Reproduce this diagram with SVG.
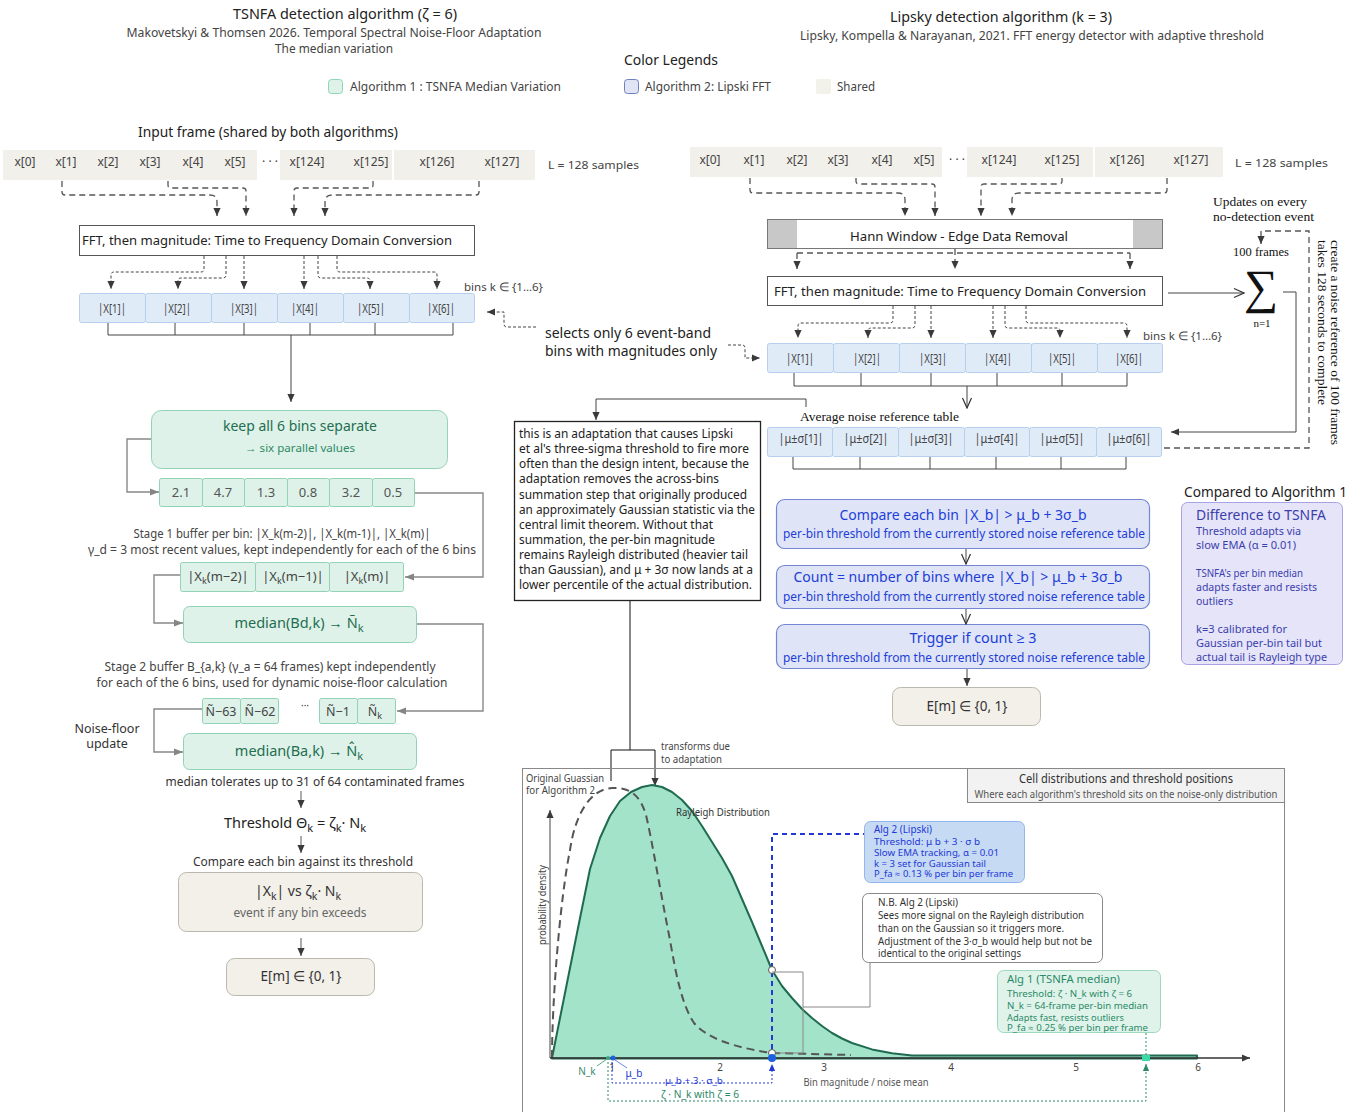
<svg xmlns="http://www.w3.org/2000/svg" width="1364" height="1112" viewBox="0 0 1364 1112">
<defs>
<marker id="ah" markerUnits="userSpaceOnUse" markerWidth="8" markerHeight="9" viewBox="0 0 10 10" refX="10" refY="5" orient="auto"><path d="M0,0.5 L10,5 L0,9.5 z" fill="#3a3a3a"/></marker>
<marker id="ahg" markerUnits="userSpaceOnUse" markerWidth="10" markerHeight="9" viewBox="0 0 10 10" refX="10" refY="5" orient="auto"><path d="M0,1 L10,5 L0,9 z" fill="#858585"/></marker>
<marker id="av" markerUnits="userSpaceOnUse" markerWidth="12" markerHeight="12" viewBox="0 0 12 12" refX="11" refY="6" orient="auto"><path d="M1,1.5 L11,6 L1,10.5" fill="none" stroke="#333" stroke-width="1.2"/></marker>
<marker id="ahb" markerUnits="userSpaceOnUse" markerWidth="7" markerHeight="8" viewBox="0 0 10 10" refX="10" refY="5" orient="auto"><path d="M0,0.5 L10,5 L0,9.5 z" fill="#2438d8"/></marker>
<marker id="ahn" markerUnits="userSpaceOnUse" markerWidth="7" markerHeight="8" viewBox="0 0 10 10" refX="10" refY="5" orient="auto"><path d="M0,0.5 L10,5 L0,9.5 z" fill="#2a8a67"/></marker>
</defs>
<style>
text{font-family:"Noto Sans","Open Sans","Liberation Sans",sans-serif;fill:#222}
.m{text-anchor:middle}
.sf{font-family:"Liberation Serif","DejaVu Serif",serif;fill:#111}
.g4{fill:#444}
.cell{fill:#f1f0ea}
.bin{fill:#e0ebf8;stroke:#b7cfee;stroke-width:1}
.mint{fill:#def2e9;stroke:#92d3b5;stroke-width:1}
.gt{fill:#1f6e50}
.lav{fill:#dfe4f6;stroke:#7387d2;stroke-width:1.2}
.bt{fill:#1d3ed8}
.shr{fill:#f2f0e9;stroke:#bbb8ad;stroke-width:1}
.d1{fill:none;stroke:#555;stroke-width:1.3;stroke-dasharray:6 4}
.d2{fill:none;stroke:#444;stroke-width:1;stroke-dasharray:3 2}
.ln{fill:none;stroke:#444;stroke-width:1}
.gl{fill:none;stroke:#888;stroke-width:1.4}
.cp{fill:#3b3fae}
</style>
<rect width="1364" height="1112" fill="#fff"/>

<g id="headers">
<text x="345" y="19" class="m" font-size="15" textLength="224" lengthAdjust="spacingAndGlyphs">TSNFA detection algorithm (ζ = 6)</text>
<text x="334" y="37" class="m g4" font-size="12" textLength="415" lengthAdjust="spacingAndGlyphs">Makovetskyi &amp; Thomsen 2026. Temporal Spectral Noise-Floor Adaptation</text>
<text x="334" y="53" class="m g4" font-size="12" textLength="118" lengthAdjust="spacingAndGlyphs">The median variation</text>
<text x="1001" y="22" class="m" font-size="14.5" textLength="222" lengthAdjust="spacingAndGlyphs">Lipsky detection algorithm (k = 3)</text>
<text x="1032" y="40" class="m g4" font-size="12" textLength="464" lengthAdjust="spacingAndGlyphs">Lipsky, Kompella &amp; Narayanan, 2021. FFT energy detector with adaptive threshold</text>
<text x="138" y="137" font-size="14" textLength="260" lengthAdjust="spacingAndGlyphs">Input frame (shared by both algorithms)</text>
</g>

<g id="legend">
<text x="624" y="65" font-size="14" textLength="94" lengthAdjust="spacingAndGlyphs">Color Legends</text>
<rect x="328.5" y="79.5" width="14" height="14" rx="3" fill="#def2e9" stroke="#8fd4b4"/>
<text x="350" y="91" class="g4" font-size="12" textLength="211" lengthAdjust="spacingAndGlyphs">Algorithm 1 : TSNFA Median Variation</text>
<rect x="624.5" y="79.5" width="14" height="14" rx="3" fill="#e0e5f5" stroke="#6f7fc0"/>
<text x="645" y="91" class="g4" font-size="12" textLength="126" lengthAdjust="spacingAndGlyphs">Algorithm 2: Lipski FFT</text>
<rect x="816" y="79" width="15" height="15" rx="2" fill="#f2f1ea"/>
<text x="837" y="91" class="g4" font-size="12" textLength="38" lengthAdjust="spacingAndGlyphs">Shared</text>
</g>

<g id="input-left">
<rect x="3" y="150" width="254" height="30" class="cell"/>
<rect x="280" y="150" width="112" height="30" class="cell"/>
<rect x="394" y="150" width="141" height="30" class="cell"/>
<g font-size="12" class="m">
<text x="25" y="166" class="g4">x[0]</text><text x="66" y="166" class="g4">x[1]</text><text x="108" y="166" class="g4">x[2]</text><text x="150" y="166" class="g4">x[3]</text><text x="193" y="166" class="g4">x[4]</text><text x="235" y="166" class="g4">x[5]</text>
<text x="270" y="166" class="g4">· · ·</text>
<text x="307" y="166" class="g4">x[124]</text><text x="371" y="166" class="g4">x[125]</text><text x="437" y="166" class="g4">x[126]</text><text x="502" y="166" class="g4">x[127]</text>
</g>
<text x="548" y="169" class="g4" font-size="11.5" textLength="91" lengthAdjust="spacingAndGlyphs">L = 128 samples</text>
</g>

<g id="input-right">
<rect x="690" y="147" width="252" height="30" class="cell"/>
<rect x="967" y="147" width="126" height="30" class="cell"/>
<rect x="1095" y="147" width="128" height="30" class="cell"/>
<g font-size="12" class="m">
<text x="710" y="164" class="g4">x[0]</text><text x="754" y="164" class="g4">x[1]</text><text x="797" y="164" class="g4">x[2]</text><text x="838" y="164" class="g4">x[3]</text><text x="882" y="164" class="g4">x[4]</text><text x="924" y="164" class="g4">x[5]</text>
<text x="957" y="164" class="g4">· · ·</text>
<text x="999" y="164" class="g4">x[124]</text><text x="1062" y="164" class="g4">x[125]</text><text x="1127" y="164" class="g4">x[126]</text><text x="1191" y="164" class="g4">x[127]</text>
</g>
<text x="1235" y="167" class="g4" font-size="11.5" textLength="93" lengthAdjust="spacingAndGlyphs">L = 128 samples</text>
</g>

<g id="fft-left">
<rect x="79.5" y="225.5" width="395" height="30" fill="#fff" stroke="#555"/>
<text x="267" y="245" class="m" font-size="13" textLength="370" lengthAdjust="spacingAndGlyphs">FFT, then magnitude:  Time to Frequency Domain Conversion</text>
</g>

<g id="bins-left">
<rect x="79.5" y="293.5" width="66" height="29" rx="2" class="bin"/>
<rect x="145.5" y="293.5" width="66" height="29" rx="2" class="bin"/>
<rect x="211.5" y="293.5" width="66" height="29" rx="2" class="bin"/>
<rect x="277.5" y="293.5" width="66" height="29" rx="2" class="bin"/>
<rect x="343.5" y="293.5" width="66" height="29" rx="2" class="bin"/>
<rect x="409.5" y="293.5" width="65" height="29" rx="2" class="bin"/>
<g font-size="13" class="m">
<text x="112" y="313" class="g4" textLength="28" lengthAdjust="spacingAndGlyphs">|X[1]|</text><text x="177" y="313" class="g4" textLength="28" lengthAdjust="spacingAndGlyphs">|X[2]|</text><text x="244" y="313" class="g4" textLength="28" lengthAdjust="spacingAndGlyphs">|X[3]|</text><text x="305" y="313" class="g4" textLength="28" lengthAdjust="spacingAndGlyphs">|X[4]|</text><text x="371" y="313" class="g4" textLength="28" lengthAdjust="spacingAndGlyphs">|X[5]|</text><text x="441" y="313" class="g4" textLength="28" lengthAdjust="spacingAndGlyphs">|X[6]|</text>
</g>
<text x="464" y="291" class="g4" font-size="11.5" textLength="79" lengthAdjust="spacingAndGlyphs">bins k ∈ {1…6}</text>
</g>

<g id="selects-note">
<text x="545" y="338" font-size="14.5" textLength="166" lengthAdjust="spacingAndGlyphs">selects only 6 event-band</text>
<text x="545" y="356" font-size="14.5" textLength="172" lengthAdjust="spacingAndGlyphs">bins with magnitudes only</text>
</g>

<g id="hann">
<rect x="767.5" y="219.5" width="395" height="29" fill="#fff" stroke="#777"/>
<rect x="768" y="220" width="29" height="28" fill="#c8c8c8"/>
<rect x="1133" y="220" width="29" height="28" fill="#c8c8c8"/>
<text x="959" y="241" class="m" font-size="13" textLength="218" lengthAdjust="spacingAndGlyphs">Hann Window - Edge Data Removal</text>
</g>

<g id="fft-right">
<rect x="767.5" y="276.5" width="395" height="29" fill="#fff" stroke="#555"/>
<text x="960" y="296" class="m" font-size="13" textLength="372" lengthAdjust="spacingAndGlyphs">FFT, then magnitude:  Time to Frequency Domain Conversion</text>
</g>

<g id="bins-right">
<rect x="767.5" y="343.5" width="66" height="29" rx="2" class="bin"/>
<rect x="833.5" y="343.5" width="66" height="29" rx="2" class="bin"/>
<rect x="899.5" y="343.5" width="66" height="29" rx="2" class="bin"/>
<rect x="965.5" y="343.5" width="66" height="29" rx="2" class="bin"/>
<rect x="1031.5" y="343.5" width="66" height="29" rx="2" class="bin"/>
<rect x="1097.5" y="343.5" width="65" height="29" rx="2" class="bin"/>
<g font-size="13" class="m">
<text x="800" y="363" class="g4" textLength="28" lengthAdjust="spacingAndGlyphs">|X[1]|</text><text x="867" y="363" class="g4" textLength="28" lengthAdjust="spacingAndGlyphs">|X[2]|</text><text x="933" y="363" class="g4" textLength="28" lengthAdjust="spacingAndGlyphs">|X[3]|</text><text x="998" y="363" class="g4" textLength="28" lengthAdjust="spacingAndGlyphs">|X[4]|</text><text x="1062" y="363" class="g4" textLength="28" lengthAdjust="spacingAndGlyphs">|X[5]|</text><text x="1129" y="363" class="g4" textLength="28" lengthAdjust="spacingAndGlyphs">|X[6]|</text>
</g>
<text x="1143" y="340" class="g4" font-size="11.5" textLength="79" lengthAdjust="spacingAndGlyphs">bins k ∈ {1…6}</text>
</g>

<g id="sigma">
<text x="1213" y="206" class="sf" font-size="12.5" textLength="94" lengthAdjust="spacingAndGlyphs">Updates on every</text>
<text x="1213" y="221" class="sf" font-size="12.5" textLength="101" lengthAdjust="spacingAndGlyphs">no-detection event</text>
<text x="1261" y="256" class="sf m" font-size="12.5">100 frames</text>
<text x="1261" y="303" class="sf m" font-size="48">∑</text>
<text x="1262" y="327" class="sf m" font-size="11">n=1</text>
<g transform="translate(1331,240) rotate(90)">
<text x="0" y="0" class="sf" font-size="12.5" textLength="205" lengthAdjust="spacingAndGlyphs">create a noise reference of 100 frames</text>
<text x="0" y="13" class="sf" font-size="12.5" textLength="165" lengthAdjust="spacingAndGlyphs">takes 128 seconds to complete</text>
</g>
</g>

<g id="noise-table">
<text x="800" y="421" class="sf" font-size="12" textLength="159" lengthAdjust="spacingAndGlyphs">Average noise reference table</text>
<rect x="767.5" y="427.5" width="65" height="29" rx="2" class="bin"/>
<rect x="832.5" y="427.5" width="66" height="29" rx="2" class="bin"/>
<rect x="898.5" y="427.5" width="66" height="29" rx="2" class="bin"/>
<rect x="964.5" y="427.5" width="65" height="29" rx="2" class="bin"/>
<rect x="1029.5" y="427.5" width="67" height="29" rx="2" class="bin"/>
<rect x="1096.5" y="427.5" width="65" height="29" rx="2" class="bin"/>
<g font-size="13" class="m">
<text x="801" y="443" class="g4" textLength="45" lengthAdjust="spacingAndGlyphs">|μ±σ[1]|</text>
<text x="866" y="443" class="g4" textLength="45" lengthAdjust="spacingAndGlyphs">|μ±σ[2]|</text>
<text x="931" y="443" class="g4" textLength="45" lengthAdjust="spacingAndGlyphs">|μ±σ[3]|</text>
<text x="997" y="443" class="g4" textLength="45" lengthAdjust="spacingAndGlyphs">|μ±σ[4]|</text>
<text x="1062" y="443" class="g4" textLength="45" lengthAdjust="spacingAndGlyphs">|μ±σ[5]|</text>
<text x="1129" y="443" class="g4" textLength="45" lengthAdjust="spacingAndGlyphs">|μ±σ[6]|</text>
</g>
</g>

<g id="adaptation-note">
<rect x="514.5" y="421.5" width="246" height="179" fill="#fff" stroke="#222" stroke-width="1.3"/>
<g font-size="12.5">
<text x="519" y="438" textLength="214" lengthAdjust="spacingAndGlyphs">this is an adaptation that causes Lipski</text>
<text x="519" y="453" textLength="230" lengthAdjust="spacingAndGlyphs">et al's three-sigma threshold to fire more</text>
<text x="519" y="468" textLength="230" lengthAdjust="spacingAndGlyphs">often than the design intent, because the</text>
<text x="519" y="483" textLength="200" lengthAdjust="spacingAndGlyphs">adaptation removes the across-bins</text>
<text x="519" y="499" textLength="228" lengthAdjust="spacingAndGlyphs">summation step that originally produced</text>
<text x="519" y="514" textLength="236" lengthAdjust="spacingAndGlyphs">an approximately Gaussian statistic via the</text>
<text x="519" y="529" textLength="194" lengthAdjust="spacingAndGlyphs">central limit theorem. Without that</text>
<text x="519" y="544" textLength="196" lengthAdjust="spacingAndGlyphs">summation, the per-bin magnitude</text>
<text x="519" y="559" textLength="229" lengthAdjust="spacingAndGlyphs">remains Rayleigh distributed (heavier tail</text>
<text x="519" y="574" textLength="234" lengthAdjust="spacingAndGlyphs">than Gaussian), and μ + 3σ now lands at a</text>
<text x="519" y="589" textLength="233" lengthAdjust="spacingAndGlyphs">lower percentile of the actual distribution.</text>
</g>
</g>

<g id="keep-bins">
<rect x="151.5" y="410.5" width="296" height="58" rx="10" class="mint"/>
<text x="300" y="431" class="m gt" font-size="14" textLength="154" lengthAdjust="spacingAndGlyphs">keep all 6 bins separate</text>
<text x="300" y="452" class="m" font-size="11.5" style="fill:#2f8a67" textLength="110" lengthAdjust="spacingAndGlyphs">→ six parallel values</text>
</g>

<g id="values">
<rect x="159.5" y="478.5" width="43" height="28" rx="2" class="mint"/>
<rect x="202.5" y="478.5" width="42" height="28" rx="2" class="mint"/>
<rect x="244.5" y="478.5" width="43" height="28" rx="2" class="mint"/>
<rect x="287.5" y="478.5" width="42" height="28" rx="2" class="mint"/>
<rect x="329.5" y="478.5" width="43" height="28" rx="2" class="mint"/>
<rect x="372.5" y="478.5" width="42" height="28" rx="2" class="mint"/>
<g font-size="13" class="m">
<text x="181" y="497" style="fill:#555">2.1</text><text x="223" y="497" style="fill:#555">4.7</text><text x="266" y="497" style="fill:#555">1.3</text><text x="308" y="497" style="fill:#555">0.8</text><text x="351" y="497" style="fill:#555">3.2</text><text x="393" y="497" style="fill:#555">0.5</text>
</g>
</g>

<g id="stage1-note">
<text x="282" y="538" class="m g4" font-size="12" textLength="297" lengthAdjust="spacingAndGlyphs">Stage 1 buffer per bin: |X_k(m-2)|, |X_k(m-1)|, |X_k(m)|</text>
<text x="282" y="554" class="m g4" font-size="12" textLength="388" lengthAdjust="spacingAndGlyphs">γ_d = 3 most recent values, kept independently for each of the 6 bins</text>
</g>

<g id="stage1-buffer">
<rect x="180.5" y="562.5" width="75" height="29" rx="2" class="mint"/>
<rect x="255.5" y="562.5" width="74" height="29" rx="2" class="mint"/>
<rect x="329.5" y="562.5" width="74" height="29" rx="2" class="mint"/>
<g font-size="13" class="m">
<text x="218" y="581" class="g4">|X<tspan font-size="9" dy="3">k</tspan><tspan dy="-3">(m−2)|</tspan></text>
<text x="293" y="581" class="g4">|X<tspan font-size="9" dy="3">k</tspan><tspan dy="-3">(m−1)|</tspan></text>
<text x="367" y="581" class="g4">|X<tspan font-size="9" dy="3">k</tspan><tspan dy="-3">(m)|</tspan></text>
</g>
</g>

<g id="median-bd">
<rect x="183.5" y="606.5" width="233" height="36" rx="6" class="mint"/>
<text x="299" y="628" class="m gt" font-size="14.5">median(Bd,k) → Ñ<tspan font-size="11" dy="4">k</tspan></text>
</g>

<g id="stage2-note">
<text x="270" y="671" class="m g4" font-size="12" textLength="331" lengthAdjust="spacingAndGlyphs">Stage 2 buffer B_{a,k} (γ_a = 64 frames) kept independently</text>
<text x="272" y="687" class="m g4" font-size="12" textLength="351" lengthAdjust="spacingAndGlyphs">for each of the 6 bins, used for dynamic noise-floor calculation</text>
</g>

<g id="stage2-buffer">
<rect x="202.5" y="698.5" width="38" height="25" rx="2" class="mint"/>
<rect x="240.5" y="698.5" width="38" height="25" rx="2" class="mint"/>
<rect x="319.5" y="698.5" width="38" height="25" rx="2" class="mint"/>
<rect x="357.5" y="698.5" width="38" height="25" rx="2" class="mint"/>
<g font-size="12.5" class="m">
<text x="221" y="716" class="g4">Ñ−63</text><text x="260" y="716" class="g4">Ñ−62</text>
<text x="305" y="709" class="g4" font-size="10">···</text>
<text x="338" y="716" class="g4">Ñ−1</text><text x="375" y="716" class="g4">Ñ<tspan font-size="9" dy="3">k</tspan></text>
</g>
<text x="107" y="733" class="m" font-size="12.5" style="fill:#333">Noise-floor</text>
<text x="107" y="748" class="m" font-size="12.5" style="fill:#333">update</text>
</g>

<g id="median-ba">
<rect x="183.5" y="733.5" width="233" height="36" rx="6" class="mint"/>
<text x="299" y="756" class="m gt" font-size="14.5">median(Ba,k) → N̂<tspan font-size="11" dy="4">k</tspan></text>
<text x="315" y="786" class="m" font-size="12.5" style="fill:#333" textLength="299" lengthAdjust="spacingAndGlyphs">median tolerates up to 31 of 64 contaminated frames</text>
</g>

<g id="threshold">
<text x="295" y="828" class="m" font-size="14.5">Threshold Θ<tspan font-size="11" dy="4">k</tspan><tspan dy="-4"> = ζ</tspan><tspan font-size="11" dy="4">k</tspan><tspan dy="-4">· N</tspan><tspan font-size="11" dy="4">k</tspan></text>
</g>

<g id="compare-left">
<text x="303" y="866" class="m" font-size="12.5" style="fill:#333" textLength="220" lengthAdjust="spacingAndGlyphs">Compare each bin against its threshold</text>
<rect x="178.5" y="872.5" width="244" height="59" rx="8" class="shr"/>
<text x="298" y="896" class="m" font-size="14" style="fill:#333">|X<tspan font-size="10.5" dy="4">k</tspan><tspan dy="-4">| vs ζ</tspan><tspan font-size="10.5" dy="4">k</tspan><tspan dy="-4">· N</tspan><tspan font-size="10.5" dy="4">k</tspan></text>
<text x="300" y="917" class="m" font-size="12.5" style="fill:#666" textLength="133" lengthAdjust="spacingAndGlyphs">event if any bin exceeds</text>
</g>

<g id="output-left">
<rect x="226.5" y="958.5" width="148" height="37" rx="8" class="shr"/>
<text x="301" y="981" class="m" font-size="13.5" style="fill:#333">E[m] ∈ {0, 1}</text>
</g>

<g id="compare-right">
<rect x="776.5" y="499.5" width="373" height="49" rx="8" class="lav"/>
<text x="963" y="520" class="m bt" font-size="14.5" textLength="247" lengthAdjust="spacingAndGlyphs">Compare each bin |X_b| &gt; μ_b + 3σ_b</text>
<text x="964" y="538" class="m bt" font-size="12.5" textLength="362" lengthAdjust="spacingAndGlyphs">per-bin threshold from the currently stored noise reference table</text>
</g>
<g id="count-right">
<rect x="776.5" y="565.5" width="373" height="43" rx="8" class="lav"/>
<text x="958" y="582" class="m bt" font-size="14.5" textLength="329" lengthAdjust="spacingAndGlyphs">Count = number of bins where |X_b| &gt; μ_b + 3σ_b</text>
<text x="964" y="601" class="m bt" font-size="12.5" textLength="362" lengthAdjust="spacingAndGlyphs">per-bin threshold from the currently stored noise reference table</text>
</g>
<g id="trigger-right">
<rect x="776.5" y="624.5" width="373" height="44" rx="8" class="lav"/>
<text x="973" y="643" class="m bt" font-size="14.5" textLength="127" lengthAdjust="spacingAndGlyphs">Trigger if count ≥ 3</text>
<text x="964" y="662" class="m bt" font-size="12.5" textLength="362" lengthAdjust="spacingAndGlyphs">per-bin threshold from the currently stored noise reference table</text>
</g>
<g id="output-right">
<rect x="892.5" y="687.5" width="148" height="38" rx="8" class="shr"/>
<text x="967" y="711" class="m" font-size="13.5" style="fill:#333">E[m] ∈ {0, 1}</text>
</g>

<g id="compared-box">
<text x="1184" y="497" font-size="14" textLength="163" lengthAdjust="spacingAndGlyphs">Compared to Algorithm 1</text>
<rect x="1181.5" y="502.5" width="161" height="162" rx="6" fill="#e6e4f8" stroke="#a8a2e2"/>
<text x="1196" y="520" font-size="14.5" class="cp" textLength="130" lengthAdjust="spacingAndGlyphs">Difference to TSNFA</text>
<g font-size="11">
<text x="1196" y="535" class="cp" textLength="105" lengthAdjust="spacingAndGlyphs">Threshold adapts via</text>
<text x="1196" y="549" class="cp" textLength="100" lengthAdjust="spacingAndGlyphs">slow EMA (α = 0.01)</text>
<text x="1196" y="577" class="cp" textLength="107" lengthAdjust="spacingAndGlyphs">TSNFA's per bin median</text>
<text x="1196" y="591" class="cp" textLength="121" lengthAdjust="spacingAndGlyphs">adapts faster and resists</text>
<text x="1196" y="605" class="cp" textLength="37" lengthAdjust="spacingAndGlyphs">outliers</text>
<text x="1196" y="633" class="cp" textLength="91" lengthAdjust="spacingAndGlyphs">k=3 calibrated for</text>
<text x="1196" y="647" class="cp" textLength="126" lengthAdjust="spacingAndGlyphs">Gaussian per-bin tail but</text>
<text x="1196" y="661" class="cp" textLength="131" lengthAdjust="spacingAndGlyphs">actual tail is Rayleigh type</text>
</g>
</g>

<g id="connectors">
<path class="d1" marker-end="url(#ah)" d="M62,181 V192 Q62,195 65,195 H210 Q217,195 217,202 V216"/>
<path class="d1" marker-end="url(#ah)" d="M168,181 V185 Q168,188 171,188 H243 Q246,188 246,191 V216"/>
<path class="d1" marker-end="url(#ah)" d="M373,181 V185 Q373,188 370,188 H297 Q294,188 294,191 V216"/>
<path class="d1" marker-end="url(#ah)" d="M479,181 V192 Q479,195 476,195 H332 Q325,195 325,202 V216"/>
<path class="d2" marker-end="url(#ah)" d="M204,256 V269 Q204,272 201,272 H114 Q111,272 111,275 V289"/>
<path class="d2" marker-end="url(#ah)" d="M226,256 V275 Q226,278 223,278 H181 Q178,278 178,281 V289"/>
<path class="d2" marker-end="url(#ah)" d="M244,256 V289"/>
<path class="d2" marker-end="url(#ah)" d="M304,256 V289"/>
<path class="d2" marker-end="url(#ah)" d="M318,256 V275 Q318,278 321,278 H367 Q370,278 370,281 V289"/>
<path class="d2" marker-end="url(#ah)" d="M337,256 V269 Q337,272 340,272 H434 Q437,272 437,275 V289"/>
<path class="ln" d="M108,323 V335 M175,323 V335 M244,323 V335 M310,323 V335 M375,323 V335 M453,323 V335 M108,335 H453"/>
<path class="ln" marker-end="url(#ah)" d="M291,335 V402"/>
<path class="d2" marker-end="url(#ah)" d="M536,327 H507 Q504,327 504,324 V312 H487"/>
<path class="d2" marker-end="url(#ah)" d="M728,345 H742 Q745,345 745,348 V358 H760"/>
<path class="d1" marker-end="url(#ah)" d="M750,178 V190 Q750,193 753,193 H898 Q905,193 905,200 V216"/>
<path class="d1" marker-end="url(#ah)" d="M856,178 V181 Q856,184 859,184 H932 Q935,184 935,187 V216"/>
<path class="d1" marker-end="url(#ah)" d="M1062,178 V181 Q1062,184 1059,184 H984 Q981,184 981,187 V216"/>
<path class="d1" marker-end="url(#ah)" d="M1167,178 V190 Q1167,193 1164,193 H1019 Q1012,193 1012,200 V216"/>
<path class="d1" d="M797,253 H1130"/>
<path class="d1" marker-end="url(#ah)" d="M797,253 V269"/>
<path class="d1" marker-end="url(#ah)" d="M955,249 V269"/>
<path class="d1" marker-end="url(#ah)" d="M1130,253 V269"/>
<path class="d2" marker-end="url(#ah)" d="M893,306 V320 Q893,323 890,323 H801 Q798,323 798,326 V338"/>
<path class="d2" marker-end="url(#ah)" d="M915,306 V325 Q915,328 912,328 H871 Q868,328 868,331 V338"/>
<path class="d2" marker-end="url(#ah)" d="M931,306 V338"/>
<path class="d2" marker-end="url(#ah)" d="M993,306 V338"/>
<path class="d2" marker-end="url(#ah)" d="M1005,306 V325 Q1005,328 1008,328 H1057 Q1060,328 1060,331 V338"/>
<path class="d2" marker-end="url(#ah)" d="M1026,306 V320 Q1026,323 1029,323 H1124 Q1127,323 1127,326 V338"/>
<path class="ln" marker-end="url(#av)" d="M1168,293 H1244"/>
<path class="ln" marker-end="url(#ah)" d="M1283,292 H1296 V432 H1171"/>
<path class="d1" marker-end="url(#ah)" d="M1164,448 H1309 V231 H1261 V244"/>
<path class="ln" d="M794,373 V386 M861,373 V386 M931,373 V386 M997,373 V386 M1062,373 V386 M1127,373 V386 M794,386 H1127"/>
<path class="ln" marker-end="url(#av)" d="M967,386 V408"/>
<path class="ln" d="M806,407 V399 H596"/>
<path class="ln" marker-end="url(#ah)" d="M596,399 V420"/>
<path class="ln" d="M793,457 V469 M860,457 V469 M930,457 V469 M996,457 V469 M1061,457 V469 M1126,457 V469 M793,469 H1126"/>
<path class="ln" marker-end="url(#av)" d="M966,549 V564"/>
<path class="ln" marker-end="url(#av)" d="M966,609 V624"/>
<path class="ln" marker-end="url(#ah)" d="M967,669 V686"/>
<path class="gl" marker-end="url(#ahg)" d="M151,439 H127 V492 H159"/>
<path class="gl" marker-end="url(#ahg)" d="M415,493 H483 V577 H405"/>
<path class="gl" marker-end="url(#ahg)" d="M180,575 H154 V623 H183"/>
<path class="gl" marker-end="url(#ahg)" d="M417,624 H483 V711 H397"/>
<path class="gl" marker-end="url(#ahg)" d="M202,709 H154 V752 H183"/>
<path class="gl" marker-end="url(#ah)" d="M301,791 V808"/>
<path class="gl" marker-end="url(#ah)" d="M301,836 V853"/>
<path class="gl" marker-end="url(#ah)" d="M301,938 V956"/>
<path class="ln" style="stroke:#111" d="M630,601 V750 M611,781 V750 H655"/>
<path class="ln" style="stroke:#111" marker-end="url(#ah)" d="M655,750 V786"/>
</g>

<g id="chart">
<rect x="522.5" y="768.5" width="762" height="360" fill="none" stroke="#888"/>
<g id="chart-header">
<rect x="967.5" y="768.5" width="317" height="34" fill="#f2f2f2" stroke="#888"/>
<text x="1126" y="783" class="m" font-size="12" style="fill:#333" textLength="214" lengthAdjust="spacingAndGlyphs">Cell distributions and threshold positions</text>
<text x="1126" y="798" class="m" font-size="10" style="fill:#555" textLength="303" lengthAdjust="spacingAndGlyphs">Where each algorithm's threshold sits on the noise-only distribution</text>
</g>
<text x="526" y="782" font-size="10.5" style="fill:#444" textLength="78" lengthAdjust="spacingAndGlyphs">Original Guassian</text>
<text x="526" y="794" font-size="10.5" style="fill:#444" textLength="69" lengthAdjust="spacingAndGlyphs">for Algorithm 2</text>
<text x="661" y="750" font-size="10.5" style="fill:#444" textLength="69" lengthAdjust="spacingAndGlyphs">transforms due</text>
<text x="661" y="763" font-size="10.5" style="fill:#444" textLength="61" lengthAdjust="spacingAndGlyphs">to adaptation</text>

<path d="M552,1058 L564,998 L577,933 L590,869 L600,838 L610,816 L620,801 L631,792 L642,787 L652,785 L662,787 L672,792 L682,800 L692,811 L702,826 L712,842 L722,858 L732,876 L742,899 L752,922 L762,946 L772,970 L782,986 L792,998 L802,1009 L812,1018 L822,1026 L832,1033 L842,1038.5 L852,1043 L872,1049.4 L892,1053.3 L912,1055.5 L1197,1055.5 L1197,1058.5 L552,1058.5 Z" fill="#a2e3ca" stroke="#1f6b50" stroke-width="2" stroke-linejoin="round"/>
<text x="676" y="816" font-size="10.5" style="fill:#333" textLength="94" lengthAdjust="spacingAndGlyphs">Rayleigh Distribution</text>
<path d="M552,1058 C552,1000 560,900 570,850 C575,815 590,789 612,788 C630,787 640,795 646,815 C652,840 660,890 670,940 C676,975 682,1005 694,1023 C706,1037 730,1047 772,1053 L851,1055" fill="none" stroke="#555" stroke-width="2" stroke-dasharray="8 5"/>
<path class="ln" marker-end="url(#ah)" d="M550,1058 V810"/>
<path class="ln" style="stroke:#333;stroke-width:1.3" marker-end="url(#ah)" d="M550,1058 H1250"/>
<text transform="translate(546,905) rotate(-90)" class="m" font-size="10" style="fill:#444" textLength="80" lengthAdjust="spacingAndGlyphs">probability density</text>
<g font-size="10" class="m">
<text x="612" y="1071" style="fill:#444">1</text><text x="720" y="1071" style="fill:#444">2</text><text x="824" y="1071" style="fill:#444">3</text><text x="951" y="1071" style="fill:#444">4</text><text x="1076" y="1071" style="fill:#444">5</text><text x="1198" y="1071" style="fill:#444">6</text>
</g>
<text x="866" y="1086" class="m" font-size="10" style="fill:#555" textLength="125" lengthAdjust="spacingAndGlyphs">Bin magnitude / noise mean</text>

<path d="M772,1058 V834 H864" fill="none" stroke="#2438d8" stroke-width="2" stroke-dasharray="5 4"/>
<circle cx="772" cy="970" r="3.5" fill="#fff" stroke="#555"/>
<circle cx="772" cy="1053" r="3.5" fill="#fff" stroke="#555"/>
<circle cx="772" cy="1058" r="4" fill="#1f60e0"/>
<path d="M772,972 H803 V1053 H776" fill="none" stroke="#888"/>
<path d="M870,963 V1007 H803" fill="none" stroke="#888"/>

<path d="M612,1062 V1083 H772 V1064" fill="none" stroke="#2438d8" stroke-dasharray="2 2" marker-end="url(#ahb)"/>
<path d="M608,1062 V1101 H1146 V1064" fill="none" stroke="#2a8a67" stroke-dasharray="2 2" marker-end="url(#ahn)"/>
<path d="M1146,1033 V1056" fill="none" stroke="#2a9a70" stroke-dasharray="2 2"/>
<rect x="1142" y="1055" width="8" height="6" fill="#3dd9a8"/>
<circle cx="608" cy="1058" r="2" fill="#3aa880"/>
<circle cx="613" cy="1058" r="2.5" fill="#1f60e0"/>
<path d="M597,1066 L607,1059" stroke="#5aa888" fill="none"/>
<path d="M627,1068 L615,1060" stroke="#6a8ae0" fill="none"/>
<text x="587" y="1075" class="m" font-size="10" style="fill:#3a8a6a">N_k</text>
<text x="634" y="1077" class="m" font-size="10" style="fill:#2438d8">μ_b</text>
<text x="694" y="1084" class="m" font-size="9.5" style="fill:#2438d8" textLength="58" lengthAdjust="spacingAndGlyphs">μ_b + 3 · σ_b</text>
<text x="700" y="1098" class="m" font-size="10" style="fill:#2a8a67" textLength="78" lengthAdjust="spacingAndGlyphs">ζ · N_k with ζ = 6</text>
</g>

<g id="alg2-callout">
<rect x="864.5" y="821.5" width="160" height="61" rx="6" fill="#c6daf4" stroke="#93b7ea"/>
<text x="874" y="833" font-size="11" style="fill:#2438d8" textLength="58" lengthAdjust="spacingAndGlyphs">Alg 2 (Lipski)</text>
<g font-size="8.5">
<text x="874" y="845" style="fill:#2438d8" textLength="106" lengthAdjust="spacingAndGlyphs">Threshold: μ b + 3 · σ b</text>
<text x="874" y="856" style="fill:#2438d8" textLength="125" lengthAdjust="spacingAndGlyphs">Slow EMA tracking, α = 0.01</text>
<text x="874" y="866.5" style="fill:#2438d8" textLength="112" lengthAdjust="spacingAndGlyphs">k = 3 set for Gaussian tail</text>
<text x="874" y="877" style="fill:#2438d8" textLength="139" lengthAdjust="spacingAndGlyphs">P_fa ≈ 0.13 % per bin per frame</text>
</g>
</g>

<g id="nb-callout">
<rect x="862.5" y="893.5" width="240" height="69" rx="6" fill="#fff" stroke="#888"/>
<g font-size="10.5">
<text x="878" y="906" style="fill:#333" textLength="80" lengthAdjust="spacingAndGlyphs">N.B. Alg 2 (Lipski)</text>
<text x="878" y="919" style="fill:#333" textLength="206" lengthAdjust="spacingAndGlyphs">Sees more signal on the Rayleigh distribution</text>
<text x="878" y="932" style="fill:#333" textLength="186" lengthAdjust="spacingAndGlyphs">than on the Gaussian so it triggers more.</text>
<text x="878" y="945" style="fill:#333" textLength="214" lengthAdjust="spacingAndGlyphs">Adjustment of the 3·σ_b would help but not be</text>
<text x="878" y="957" style="fill:#333" textLength="143" lengthAdjust="spacingAndGlyphs">identical to the original settings</text>
</g>
</g>

<g id="alg1-callout">
<rect x="997.5" y="970.5" width="163" height="62" rx="6" fill="#e0f3ea" stroke="#9ed8bf"/>
<text x="1007" y="983" font-size="11" style="fill:#2a8a67" textLength="113" lengthAdjust="spacingAndGlyphs">Alg 1 (TSNFA median)</text>
<g font-size="8.5">
<text x="1007" y="997" style="fill:#2a8a67" textLength="125" lengthAdjust="spacingAndGlyphs">Threshold: ζ · N_k with ζ = 6</text>
<text x="1007" y="1009" style="fill:#2a8a67" textLength="141" lengthAdjust="spacingAndGlyphs">N_k = 64-frame per-bin median</text>
<text x="1007" y="1020.5" style="fill:#2a8a67" textLength="117" lengthAdjust="spacingAndGlyphs">Adapts fast, resists outliers</text>
<text x="1007" y="1031" style="fill:#2a8a67" textLength="141" lengthAdjust="spacingAndGlyphs">P_fa ≈ 0.25 % per bin per frame</text>
</g>
</g>
</svg>
